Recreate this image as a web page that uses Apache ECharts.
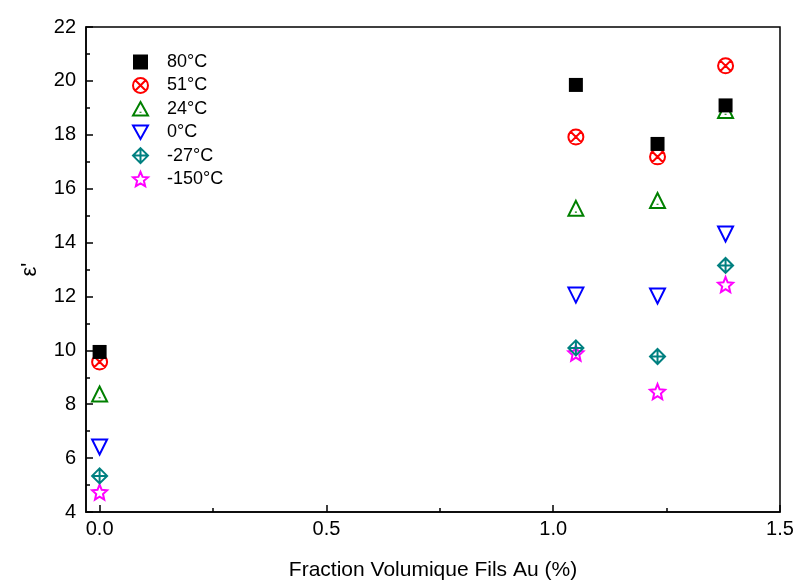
<!DOCTYPE html>
<html>
<head>
<meta charset="utf-8">
<script src="https://cdn.jsdelivr.net/npm/echarts@6/dist/echarts.min.js"></script>
<style>html,body{margin:0;padding:0;background:#fff;}#c{width:799px;height:581px;}</style>
</head>
<body>
<div id="c"></div>
<script>
var xValues = [0, 1.05, 1.23, 1.38];
var s80 = [9.94, 19.85, 17.66, 19.09];
var s51 = [9.57, 17.92, 17.18, 20.56];
var s24 = [8.38, 15.27, 15.56, 18.9];
var s0 = [6.41, 12.05, 12.02, 14.32];
var sm27 = [5.34, 10.09, 9.77, 13.15];
var sm150 = [4.74, 9.9, 8.47, 12.44];
var seriesNames = ['80°C', '51°C', '24°C', '0°C', '-27°C', '-150°C'];
var xLabelTicks = [0, 0.5, 1.0, 1.5];
var xMinorTicks = [0.25, 0.75, 1.25];

function pairs(ys) { return xValues.map(function (x, i) { return [x, ys[i]]; }); }

var FONT = 'Liberation Sans, Arial, sans-serif';
var shapes = [
  {sym: 'rect', color: '#000000', fill: '#000000'},
  {sym: 'path://M0,-1 A1,1 0 1,1 0,1 A1,1 0 1,1 0,-1 Z M-0.72,-0.72 L0.72,0.72 M0.72,-0.72 L-0.72,0.72', color: '#ff0000', fill: 'none'},
  {sym: 'path://M0,-1 L1,0.8 L-1,0.8 Z M0,0.28 L0,0.42', color: '#008000', fill: 'none'},
  {sym: 'path://M-1,-0.8 L1,-0.8 L0,1 Z', color: '#0000ff', fill: 'none'},
  {sym: 'path://M0,-1 L1,0 L0,1 L-1,0 Z M0,-1 L0,1 M-1,0 L1,0', color: '#008080', fill: 'none'},
  {sym: 'path://M0,-1 L0.2645,-0.364 L0.951,-0.309 L0.428,0.139 L0.588,0.809 L0,0.45 L-0.588,0.809 L-0.428,0.139 L-0.951,-0.309 L-0.2645,-0.364 Z', color: '#ff00ff', fill: 'none'}
];
var allData = [s80, s51, s24, s0, sm27, sm150];

function styleFor(i) {
  var s = shapes[i];
  return {
    color: s.fill === 'none' ? 'rgba(255,255,255,0)' : s.fill,
    borderColor: s.color,
    borderWidth: i === 0 ? 0 : 2,
    opacity: 1
  };
}

var series = allData.map(function (d, i) {
  return {
    name: seriesNames[i],
    type: 'scatter',
    data: pairs(d),
    symbol: shapes[i].sym,
    symbolSize: i === 0 ? 14 : 15,
    itemStyle: styleFor(i),
    emphasis: {disabled: true},
    z: 10 - i
  };
});

var chart = echarts.init(document.getElementById('c'), null, {renderer: 'canvas'});
chart.setOption({
  animation: false,
  backgroundColor: '#ffffff',
  grid: {left: 86, right: 19, top: 27, bottom: 69, outerBoundsMode: 'none', containLabel: false, show: true, borderColor: '#000', borderWidth: 1.5, backgroundColor: 'transparent'},
  legend: {
    orient: 'vertical', left: 127, top: 48, itemGap: 5.4, itemWidth: 15, itemHeight: 15,
    textStyle: {fontFamily: FONT, fontSize: 18, lineHeight: 18, color: '#000', padding: [0, 0, 0, 14]},
    data: seriesNames.map(function (n, i) {
      return {name: n, icon: shapes[i].sym, itemStyle: styleFor(i)};
    })
  },
  xAxis: [{
    type: 'value', min: -0.03, max: 1.5, position: 'bottom',
    name: 'Fraction Volumique Fils Au (%)', nameLocation: 'middle', nameGap: 48,
    nameTextStyle: {fontFamily: FONT, fontSize: 21, color: '#000'},
    axisLine: {show: true, onZero: false, lineStyle: {color: '#000', width: 1.5}},
    axisTick: {show: true, inside: true, length: 7, customValues: xLabelTicks, lineStyle: {color: '#000', width: 1.5}},
    axisLabel: {customValues: xLabelTicks, formatter: function (v) { return v.toFixed(1); }, fontFamily: FONT, fontSize: 20, color: '#000', margin: 7},
    splitLine: {show: false}
  }, {
    type: 'value', min: -0.03, max: 1.5, position: 'bottom', gridIndex: 0,
    axisLine: {show: false, onZero: false},
    axisTick: {show: true, inside: true, length: 4, customValues: xMinorTicks, lineStyle: {color: '#000', width: 1.5}},
    axisLabel: {show: false},
    splitLine: {show: false}
  }],
  yAxis: {
    type: 'value', min: 4, max: 22, interval: 2,
    name: "ε'", nameLocation: 'middle', nameGap: 45, nameRotate: 90,
    nameTextStyle: {fontFamily: FONT, fontSize: 22, color: '#000'},
    axisLine: {show: true, onZero: false, lineStyle: {color: '#000', width: 1.5}},
    axisTick: {show: true, inside: true, length: 7, lineStyle: {color: '#000', width: 1.5}},
    minorTick: {show: true, splitNumber: 2, length: 4, lineStyle: {color: '#000', width: 1.5}},
    axisLabel: {fontFamily: FONT, fontSize: 20, color: '#000', margin: 10},
    splitLine: {show: false}
  },
  series: series
});
</script>
</body>
</html>
